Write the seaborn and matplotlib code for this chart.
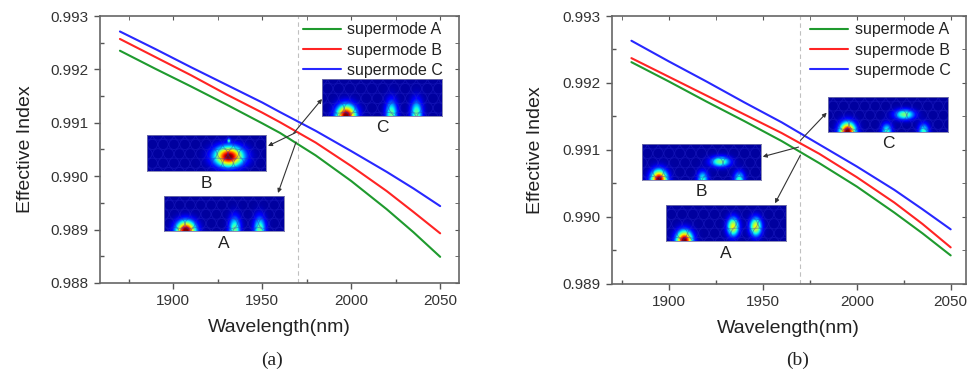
import numpy as np
import pandas as pd
import matplotlib
matplotlib.use("Agg")
import matplotlib.pyplot as plt
from matplotlib.patches import Circle
import seaborn as sns

# ---------------- data ----------------
modes = ["supermode A", "supermode B", "supermode C"]

wl_a = [1870, 1890, 1910, 1930, 1950, 1960, 1980, 2000, 2020, 2035, 2050]
neff_a_A = [0.99235, 0.99201, 0.99168, 0.99134, 0.99099, 0.99081, 0.99039, 0.98991, 0.98938, 0.98895, 0.98849]
neff_a_B = [0.99257, 0.99223, 0.99189, 0.99153, 0.99119, 0.99101, 0.99063, 0.99019, 0.98972, 0.98933, 0.98893]
neff_a_C = [0.99271, 0.99238, 0.99204, 0.99171, 0.99138, 0.99120, 0.99085, 0.99047, 0.99008, 0.98977, 0.98944]

wl_b = [1880, 1900, 1920, 1940, 1960, 1980, 2000, 2020, 2035, 2050]
neff_b_A = [0.99231, 0.99202, 0.99172, 0.99143, 0.99113, 0.99080, 0.99045, 0.99006, 0.98975, 0.98942]
neff_b_B = [0.99237, 0.99209, 0.99181, 0.99153, 0.99125, 0.99094, 0.99059, 0.99021, 0.98989, 0.98954]
neff_b_C = [0.99263, 0.99232, 0.99202, 0.99171, 0.99141, 0.99108, 0.99075, 0.99040, 0.99011, 0.98981]

marker_wl = 1970

yticks_a = [0.988, 0.989, 0.990, 0.991, 0.992, 0.993]
yticks_b = [0.989, 0.990, 0.991, 0.992, 0.993]
xticks = [1900, 1950, 2000, 2050]

# mode-field insets: blobs (x frac, y frac from top, sx, sy, amplitude)
fields_a = {
    "A": [(0.18, 1.0, 0.055, 0.19, 1.0), (0.59, 0.97, 0.033, 0.25, 0.45), (0.80, 0.97, 0.033, 0.25, 0.45)],
    "B": [(0.69, 0.60, 0.08, 0.19, 1.0), (0.69, 0.14, 0.008, 0.04, 0.4)],
    "C": [(0.20, 1.0, 0.055, 0.19, 1.0), (0.58, 0.97, 0.033, 0.25, 0.45), (0.79, 0.97, 0.033, 0.25, 0.45)],
}
fields_b = {
    "A": [(0.15, 1.0, 0.045, 0.18, 1.0), (0.56, 0.62, 0.033, 0.17, 0.62), (0.75, 0.62, 0.033, 0.17, 0.62)],
    "B": [(0.14, 1.0, 0.045, 0.18, 1.0), (0.66, 0.49, 0.055, 0.1, 0.47),
          (0.51, 0.99, 0.03, 0.15, 0.38), (0.82, 0.99, 0.03, 0.15, 0.38)],
    "C": [(0.16, 1.0, 0.045, 0.18, 1.0), (0.64, 0.50, 0.055, 0.1, 0.47),
          (0.49, 0.99, 0.03, 0.15, 0.38), (0.80, 0.99, 0.03, 0.15, 0.38)],
}

colors = {"supermode A": "#1f9a2e", "supermode B": "#ff2424", "supermode C": "#2828ff"}

W, H = 969, 372
sns.set_style("ticks")
plt.rcParams["font.family"] = ["Liberation Sans", "DejaVu Sans"]
plt.rcParams["xtick.labelsize"] = 11
plt.rcParams["ytick.labelsize"] = 11
fig = plt.figure(figsize=(W / 100, H / 100), dpi=100)


def px(x0, y0, x1, y1):
    return [x0 / W, 1 - y1 / H, (x1 - x0) / W, (y1 - y0) / H]


def make_field(blobs, nx=120, ny=36):
    xx, yy = np.meshgrid(np.linspace(0, 1, nx), np.linspace(0, 1, ny))
    img = np.zeros_like(xx) + 0.03
    for (cx, cy, sx, sy, a) in blobs:
        img += a * np.exp(-((xx - cx) ** 2) / (2 * sx ** 2) - ((yy - cy) ** 2) / (2 * sy ** 2))
    return np.clip(img, 0, 1)


def add_inset(box, blobs, label):
    iax = fig.add_axes(px(*box))
    aspect = (box[2] - box[0]) / (box[3] - box[1])
    iax.imshow(make_field(blobs), cmap="jet", vmin=0, vmax=1, aspect="auto",
               extent=(0, aspect, 1, 0), interpolation="bilinear")
    p = 0.3
    for j in range(-1, 5):
        for i in range(-1, int(aspect / p) + 2):
            cx = i * p + (p / 2 if j % 2 else 0)
            cy = j * p * 0.87
            iax.add_patch(Circle((cx, cy), p * 0.47, fill=False, ec=(0.15, 0.15, 0.8),
                                 lw=0.6, alpha=0.45))
    iax.set_xlim(0, aspect)
    iax.set_ylim(1, 0)
    iax.set_xticks([])
    iax.set_yticks([])
    for s in iax.spines.values():
        s.set_color("#7777aa")
        s.set_linewidth(0.6)
    cx = (box[0] + box[2]) / 2
    fig.text(cx / W, 1 - (box[3] + 12) / H, label, ha="center", va="center",
             fontsize=12.5, color="#222222")


def panel(rect, wl, A, B, C, xlim, ylim, yticks, yminor, ylab_x):
    ax = fig.add_axes(rect)
    df = pd.DataFrame({
        "Wavelength": list(wl) * 3,
        "neff": list(A) + list(B) + list(C),
        "mode": [modes[0]] * len(wl) + [modes[1]] * len(wl) + [modes[2]] * len(wl),
    })
    sns.lineplot(data=df, x="Wavelength", y="neff", hue="mode", palette=colors,
                 linewidth=1.5, ax=ax)
    ax.axvline(marker_wl, color="#c0c0c0", lw=0.8, ls=(0, (4, 3)), zorder=0)
    ax.set_xlim(*xlim)
    ax.set_ylim(*ylim)
    ax.set_xticks(xticks)
    ax.set_xticks([1875, 1925, 1975, 2025], minor=True)
    ax.set_yticks(yticks)
    ax.set_yticks(yminor, minor=True)
    ax.set_yticklabels([f"{v:.3f}" for v in yticks])
    ax.tick_params(which="major", direction="out", length=4, width=1, color="#555555",
                   labelsize=11, labelcolor="#333333", pad=4)
    ax.tick_params(which="minor", direction="in", length=3, width=1, color="#555555")
    for s in ax.spines.values():
        s.set_visible(True)
        s.set_color("#666666")
        s.set_linewidth(1.2)
    top = ax.secondary_xaxis("top")
    top.set_xticks(xticks)
    top.set_xticks([1875, 1925, 1975, 2025], minor=True)
    top.tick_params(which="both", direction="in", length=3, color="#555555", labeltop=False)
    right = ax.secondary_yaxis("right")
    right.set_yticks(yticks)
    right.set_yticks(yminor, minor=True)
    right.tick_params(which="both", direction="in", length=3, color="#555555", labelright=False)
    for sec in (top, right):
        for s in sec.spines.values():
            s.set_visible(False)
    ax.set_xlabel("Wavelength(nm)", fontsize=14, color="#222222")
    ax.set_ylabel("Effective Index", fontsize=14, color="#222222")
    ax.xaxis.set_label_coords(0.5, -0.136)
    ax.yaxis.set_label_coords(ylab_x, 0.5)
    leg = ax.legend(loc="upper right", frameon=False, fontsize=11.5, handlelength=2.4,
                    labelspacing=0.32, handletextpad=0.4, borderaxespad=0.0,
                    bbox_to_anchor=(0.975, 1.0))
    for t in leg.get_texts():
        t.set_color("#222222")
    return ax


def arrow(ax, start, end_px):
    ax.annotate("", xy=(end_px[0] / W, 1 - end_px[1] / H), xycoords="figure fraction",
                xytext=start, textcoords="data",
                arrowprops=dict(arrowstyle="-|>", color="#333333", lw=0.8,
                                mutation_scale=6, shrinkA=0, shrinkB=0))


# ---------------- panel (a) ----------------
ax_a = panel(px(100, 16, 458.5, 283), wl_a, neff_a_A, neff_a_B, neff_a_C,
             (1858.8, 2060.3), (0.988, 0.993), yticks_a,
             [0.9885, 0.9895, 0.9905, 0.9915, 0.9925], -0.184)
add_inset((322, 79, 442, 116), fields_a["C"], "C")
add_inset((147, 135, 266, 171), fields_a["B"], "B")
add_inset((164, 196, 284, 231), fields_a["A"], "A")
arrow(ax_a, (1967.5, 0.99080), (322, 99))
arrow(ax_a, (1969, 0.99082), (268, 146))
arrow(ax_a, (1969, 0.99064), (278, 193))
fig.text(272 / W, 1 - 360 / H, "(a)", ha="center", va="center", fontsize=14,
         family=["Liberation Serif", "DejaVu Serif"], color="#222222")

# ---------------- panel (b) ----------------
ax_b = panel(px(611.7, 16, 965.7, 283.5), wl_b, neff_b_A, neff_b_B, neff_b_C,
             (1869.5, 2058), (0.989, 0.993), yticks_b,
             [0.9895, 0.9905, 0.9915, 0.9925], -0.191)
add_inset((828, 97, 948, 132), fields_b["C"], "C")
add_inset((642, 144, 761, 180), fields_b["B"], "B")
add_inset((666, 205, 786, 241), fields_b["A"], "A")
arrow(ax_b, (1970, 0.99114), (826.7, 112.7))
arrow(ax_b, (1969, 0.99104), (762.7, 156.7))
arrow(ax_b, (1970, 0.99092), (775, 203.3))
fig.text(798 / W, 1 - 360 / H, "(b)", ha="center", va="center", fontsize=14,
         family=["Liberation Serif", "DejaVu Serif"], color="#222222")

fig.savefig("out.png", dpi=100)
